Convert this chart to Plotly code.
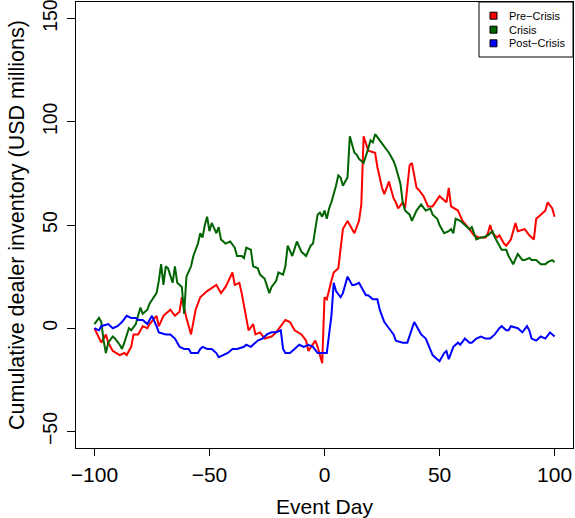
import plotly.graph_objects as go

# ---- data ----
pre_day = [-100,-97,-95,-94,-92,-89,-87,-86,-84,-83,-81,-79,-77,-76,-73,-72,-70,-67,-65,-63,-62,-60,-58,-56,-54,-51,-47,-45,-43,-40,-39,-37,-36,-34,-33,-31,-30,-28,-26,-23,-21,-19,-17,-15,-13,-10,-8,-7,-4,-3,-1,0,1,3,4,6,7,8,10,12,13,15,16,17,19,22,23,25,26,28,30,31,32,34,35,37,38,40,41,43,45,47,50,51,53,54,55,58,60,63,65,67,70,71,72,73,75,76,78,79,81,83,84,87,89,91,92,94,96,97,99,100]
pre_val = [0,-7,-3,-7,-11,-13,-12,-13,-9,-3,-3,1,0,2,6,1,6,9,6,8,15,5,-3,9,15,18,21,17,20,27,21,22,17,6,-1,2,-3,-2,-5,-4,-2,1,4,3,-1,-3,-6,-11,-6,-9,-17,15,14,23,27,29,38,48,52,48,46,52,60,93,86,85,78,68,65,71,63,61,58,61,58,79,80,68,67,64,59,59,64,63,61,68,59,57,52,48,45,44,44,46,50,46,44,45,41,40,43,51,47,48,45,43,53,55,57,61,58,54]

cri_day = [-100,-98,-97,-96,-95,-94,-92,-91,-89,-88,-87,-85,-84,-82,-81,-80,-79,-77,-76,-74,-73,-72,-71,-70,-69,-68,-66,-65,-64,-62,-61,-60,-58,-57,-55,-54,-53,-52,-51,-50,-49,-47,-46,-45,-43,-41,-39,-38,-36,-35,-34,-32,-31,-29,-28,-26,-25,-24,-23,-21,-20,-18,-17,-16,-14,-12,-10,-8,-6,-5,-4,-3,-2,-1,0,1,2,3,5,6,7,8,10,11,13,14,15,17,19,20,21,22,24,26,28,30,31,33,34,35,37,38,40,42,44,46,47,49,50,52,54,55,56,57,59,61,63,64,65,66,68,69,71,73,74,76,77,79,80,82,84,86,87,89,90,92,94,96,97,99,100]
cri_val = [2,5,3,-6,-12,-7,-4,-5,-8,-10,-7,0,-1,2,6,10,7,9,12,15,17,23,31,21,30,29,22,30,22,20,7,25,30,35,41,46,44,50,54,47,51,46,49,43,41,42,39,35,35,34,39,38,30,29,26,24,21,17,20,23,27,26,30,40,35,42,37,35,40,41,48,55,56,54,57,53,58,61,69,74,73,69,73,93,85,84,82,80,87,91,90,94,91,88,85,81,78,70,61,57,55,52,57,60,57,58,55,53,50,46,47,48,46,53,52,50,48,49,46,43,44,44,45,47,44,40,38,38,35,31,36,33,33,34,33,33,31,31,32,33,32]

post_day = [-100,-98,-97,-94,-92,-90,-88,-86,-84,-82,-81,-79,-77,-75,-73,-72,-69,-67,-65,-63,-61,-59,-58,-55,-54,-53,-51,-49,-47,-46,-44,-42,-40,-38,-35,-34,-32,-31,-29,-27,-25,-23,-21,-19,-18,-17,-15,-13,-11,-9,-7,-5,-3,-1,1,2,3,4,5,7,8,10,12,13,15,16,18,19,21,23,24,25,26,28,30,31,34,36,37,39,41,42,44,45,47,48,50,52,53,54,56,58,59,61,63,64,66,68,70,72,74,76,77,79,80,81,84,85,86,88,89,90,92,93,94,96,98,100]
post_val = [0,-1,1,2,0,1,3,6,5,5,4,4,2,6,1,-2,-3,-3,-5,-9,-10,-10,-12,-12,-10,-9,-10,-10,-12,-14,-13,-12,-10,-10,-9,-8,-9,-8,-6,-5,-3,-2,-2,-1,-10,-12,-12,-10,-8,-9,-8,-9,-12,-12,-12,-3,6,22,18,15,17,25,21,21,22,20,16,16,14,14,9,6,3,0,-3,-6,-7,-7,-4,3,-1,-3,-5,-8,-13,-14,-16,-12,-11,-15,-9,-7,-8,-5,-7,-7,-5,-4,-5,-5,-3,0,1,-1,-1,1,0,-1,-2,1,-1,-5,-6,-5,-4,-5,-2,-4]

x_ticks = [-100, -50, 0, 50, 100]
y_ticks = [-50, 0, 50, 100, 150]

series_names = ["Pre\u2212Crisis", "Crisis", "Post\u2212Crisis"]
series_colors = ["#FF0000", "#006400", "#0000FF"]
series_x = [pre_day, cri_day, post_day]
series_y = [pre_val, cri_val, post_val]

FONT = "Liberation Sans, Arial, Helvetica, sans-serif"

W, H = 575, 518
ML, MR, MT, MB = 76, 2, 2, 70
PW, PH = W - ML - MR, H - MT - MB

def px_x(p):  # pixel -> paper x
    return (p - ML) / PW

def px_y(p):  # pixel -> paper y
    return (H - MB - p) / PH

fig = go.Figure()
for name, xs, ys, col in zip(series_names, series_x, series_y, series_colors):
    fig.add_trace(go.Scatter(x=xs, y=ys, mode="lines", name=name,
                             line=dict(color=col, width=2), showlegend=False))

# legend box (drawn like R's legend)
shapes = [dict(type="rect", xref="paper", yref="paper",
               x0=px_x(479), x1=1.0, y0=px_y(57), y1=1.0,
               line=dict(color="black", width=1), fillcolor="white", layer="above")]
annotations = []
row_y = [15.7, 29.7, 43.3]
for name, col, ry in zip(series_names, series_colors, row_y):
    shapes.append(dict(type="rect", xref="paper", yref="paper",
                       x0=px_x(490), x1=px_x(497), y0=px_y(ry + 3.5), y1=px_y(ry - 3.5),
                       line=dict(color="black", width=1), fillcolor=col, layer="above"))
    annotations.append(dict(x=px_x(507), y=px_y(ry), xref="paper", yref="paper",
                            text=name, showarrow=False, xanchor="left", yanchor="middle",
                            font=dict(size=11, family=FONT, color="black")))

fig.update_layout(
    width=W, height=H,
    margin=dict(l=ML, r=MR, t=MT, b=MB, autoexpand=False),
    paper_bgcolor="white", plot_bgcolor="white",
    font=dict(family=FONT, color="black", size=17),
    showlegend=False,
    shapes=shapes, annotations=annotations,
    xaxis=dict(range=[-108, 108], tickvals=x_ticks, ticks="outside", ticklen=7,
               tickcolor="black", showline=True, linecolor="black", linewidth=1,
               mirror=True, showgrid=False, zeroline=False, ticklabelstandoff=1,
               ticklabeloverflow="allow", automargin=False,
               title=dict(text="Event Day", standoff=14,
                          font=dict(size=21, family=FONT, color="black")),
               tickfont=dict(size=21, family=FONT, color="black")),
    yaxis=dict(range=[-58, 158], tickvals=y_ticks, ticks="outside", ticklen=8,
               tickcolor="black", showline=True, linecolor="black", linewidth=1,
               mirror=True, showgrid=False, zeroline=False, tickangle=-90,
               ticklabelstandoff=2, ticklabeloverflow="allow", automargin=False,
               title=dict(text="Cumulative dealer inventory (USD millions)", standoff=8,
                          font=dict(size=21.5, family=FONT, color="black")),
               tickfont=dict(size=19.5, family=FONT, color="black")),
)

fig.write_html("out.html")
